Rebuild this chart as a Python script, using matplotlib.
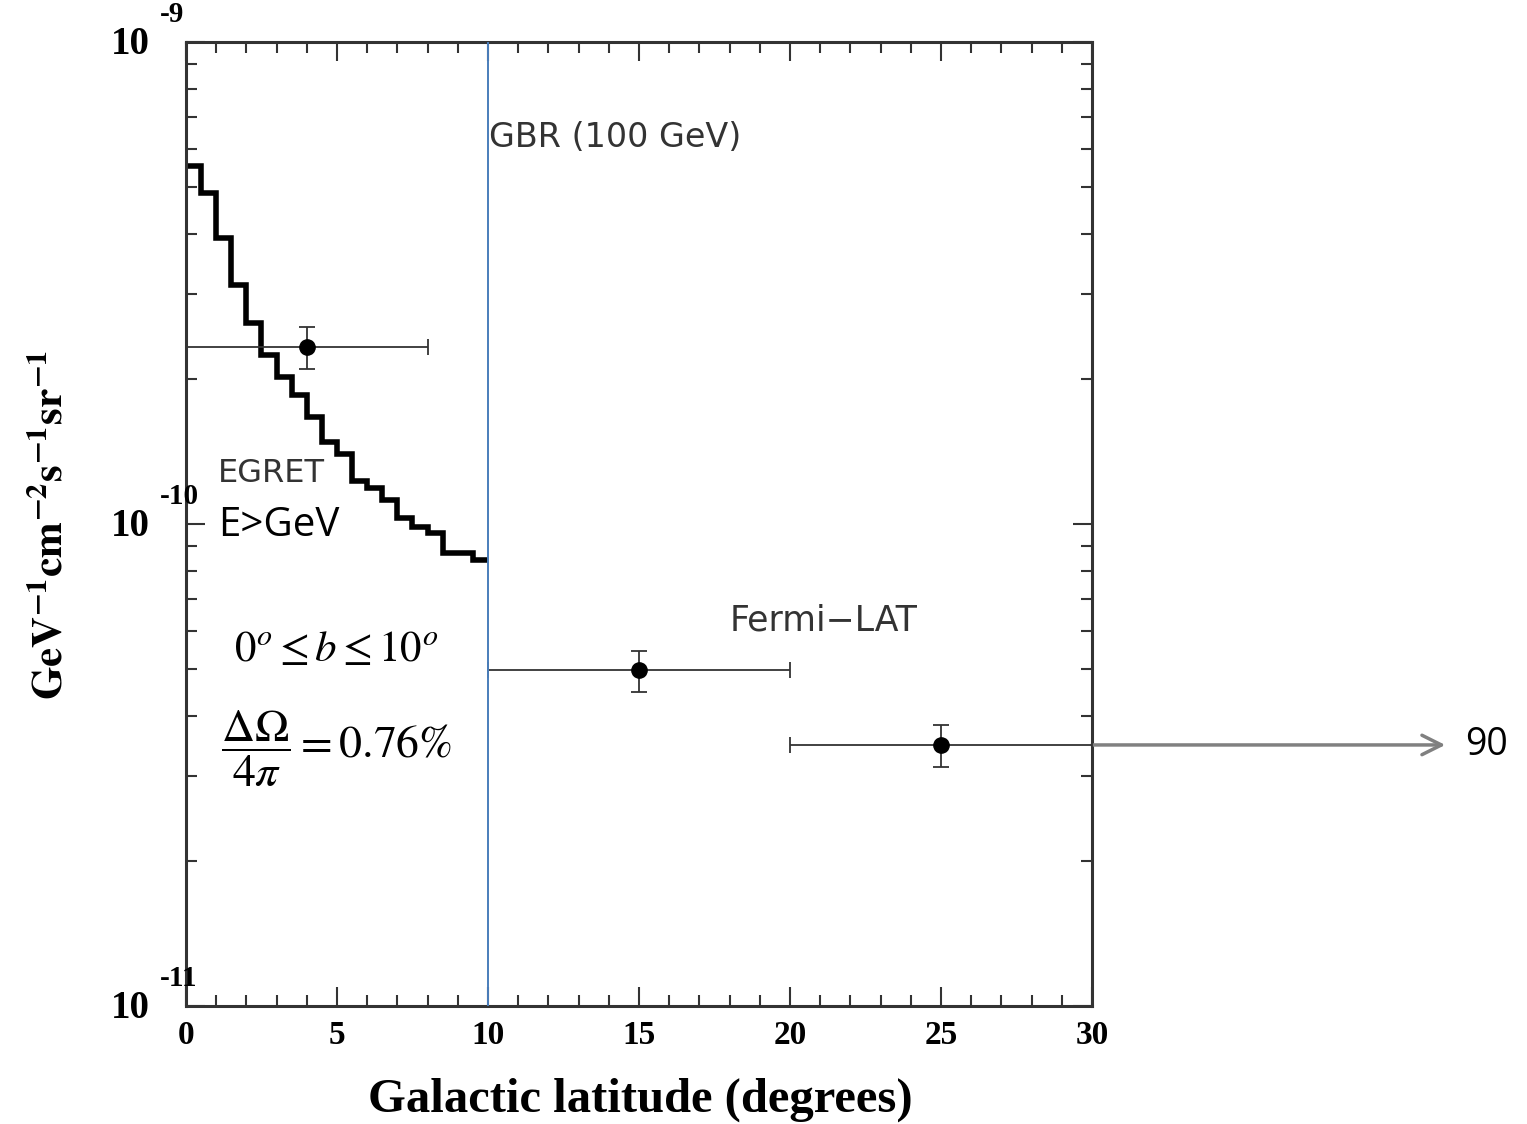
import numpy as np
import matplotlib
matplotlib.use("Agg")
import matplotlib.pyplot as plt
from matplotlib.ticker import FixedLocator, LogLocator, NullFormatter, MultipleLocator
from matplotlib.transforms import offset_copy

plt.rcParams['mathtext.fontset'] = 'stix'

# EGRET E>GeV profile, 0.5 deg bins
egret_edges = np.arange(0, 10.5, 0.5)
egret_flux = [5.54e-10, 4.87e-10, 3.92e-10, 3.13e-10, 2.61e-10, 2.24e-10, 2.02e-10,
              1.85e-10, 1.67e-10, 1.48e-10, 1.40e-10, 1.23e-10, 1.19e-10, 1.12e-10,
              1.03e-10, 0.987e-10, 0.96e-10, 0.869e-10, 0.87e-10, 0.841e-10]

# Fermi-LAT GBR (100 GeV) points
lat_b = [4, 15, 25]
lat_bwidth = [4, 5, 5]
lat_flux = [2.33e-10, 4.98e-11, 3.48e-11]
lat_err_hi = [2.56e-10, 5.46e-11, 3.82e-11]
lat_err_lo = [2.10e-10, 4.48e-11, 3.13e-11]

gbr_b = 10
arrow_end = 41.7

y_major = [1e-11, 1e-10, 1e-9]
y_exp = ['-11', '-10', '-9']

fig = plt.figure(figsize=(15.27, 11.24), dpi=100)
ax = fig.add_axes([0.1218, 0.105, 0.5933, 0.8576])

ax.set_yscale('log')
ax.set_xlim(0, 30)
ax.set_ylim(1e-11, 1e-9)

ax.stairs(egret_flux, egret_edges, color='black', lw=4.0, baseline=None)

yerr = [np.array(lat_flux) - np.array(lat_err_lo), np.array(lat_err_hi) - np.array(lat_flux)]
ax.errorbar(lat_b, lat_flux, xerr=lat_bwidth, yerr=yerr, fmt='o', color='black',
            ecolor='#333333', elinewidth=1.3, capsize=6, capthick=1.3, markersize=11,
            clip_on=False, zorder=5)

ax.axvline(gbr_b, color='#4a7ebb', lw=1.4, zorder=6)

ax.annotate('', xy=(arrow_end, lat_flux[2]), xytext=(30, lat_flux[2]),
            xycoords='data', annotation_clip=False,
            arrowprops=dict(arrowstyle='->', color='#808080', lw=2.5, mutation_scale=35,
                            shrinkA=0, shrinkB=0))
ax.text(42.35, lat_flux[2], '90', fontsize=27, family='Open Sans', va='center', ha='left',
        clip_on=False)

ax.text(10.05, 6.35e-10, 'GBR (100 GeV)', fontsize=24, color='#333333', va='center', ha='left')
ax.text(1.06, 1.27e-10, 'EGRET', fontsize=23, color='#333333', va='center', ha='left')
ax.text(1.06, 0.99e-10, 'E>GeV', fontsize=29, family='Open Sans', va='center', ha='left')
ax.text(18.0, 6.32e-11, 'Fermi\u2212LAT', fontsize=25, color='#333333', va='center', ha='left')
ax.text(1.6, 5.5e-11, r'$0^o \leq b \leq 10^o$', fontsize=31, va='center', ha='left')
ax.text(1.15, 3.42e-11, r'$\dfrac{\Delta\Omega}{4\pi} = 0.76\%$', fontsize=33, va='center', ha='left')

# ticks
ax.xaxis.set_major_locator(MultipleLocator(5))
ax.xaxis.set_minor_locator(MultipleLocator(1))
ax.yaxis.set_major_locator(FixedLocator(y_major))
ax.yaxis.set_minor_locator(LogLocator(base=10, subs=np.arange(2, 10)))
ax.yaxis.set_minor_formatter(NullFormatter())
ax.set_yticklabels([])
ax.set_xticks([0, 5, 10, 15, 20, 25, 30])
ax.set_xticklabels(['0', '5', '10', '15', '20', '25', '30'], fontsize=24,
                   fontweight='bold', family='Liberation Serif')
ax.tick_params(which='both', direction='in', top=True, right=True, color='#333333', width=1.5)
ax.tick_params(which='major', length=14)
ax.tick_params(which='minor', length=8)
ax.tick_params(axis='x', which='major', pad=10)

# PAW style y labels: "10" with exponent raised above
ytr = ax.get_yaxis_transform()
base_tr = offset_copy(ytr, fig=fig, x=0, y=-2, units='points')
exp_tr = offset_copy(ytr, fig=fig, x=0, y=20, units='points')
for val, e in zip(y_major, y_exp):
    ax.text(-0.0397, val, '10', transform=base_tr, fontsize=28, fontweight='bold',
            family='Liberation Serif', ha='right', va='center', clip_on=False)
    ax.text(-0.029, val, e, transform=exp_tr, fontsize=21, fontweight='bold',
            family='Liberation Serif', ha='left', va='center', clip_on=False)

for s in ax.spines.values():
    s.set_linewidth(2.2)
    s.set_color('#333333')

fig.text(0.033, 0.533, r'$\mathbf{GeV^{-1}cm^{-2}s^{-1}sr^{-1}}$', rotation=90,
         fontsize=31, ha='center', va='center')
fig.text(0.419, 0.0214, 'Galactic latitude (degrees)', fontsize=35, fontweight='bold',
         family='Liberation Serif', ha='center', va='center')

fig.savefig('out.png', dpi=100)
